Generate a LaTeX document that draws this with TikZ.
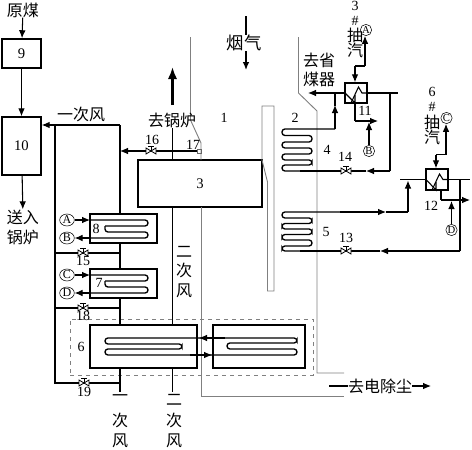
\documentclass[tikz,border=0pt]{standalone}
\usepackage{fontspec}
\usepackage{tikz}
\usetikzlibrary{shapes.geometric, arrows.meta, positioning, calc}
\newfontfamily\cjkfont{Noto Sans CJK SC}
\setmainfont{Liberation Serif}

\begin{document}
\begin{tikzpicture}[
    x=0.75pt, y=-0.75pt,
    box/.style={rectangle, draw, line width=1.1pt, inner sep=0pt, font=\fontsize{11}{12}\selectfont},
    numtag/.style={inner sep=0pt, font=\fontsize{10.5}{12}\selectfont},
    hanzi/.style={inner sep=0pt, font=\cjkfont\fontsize{12}{13}\selectfont},
    port/.style={ellipse, draw, thin, minimum width=11pt, minimum height=9pt, inner sep=0pt, font=\fontsize{9}{9}\selectfont},
    portsm/.style={port, minimum width=8.5pt, minimum height=8.5pt, font=\fontsize{8}{9}\selectfont},
    pipe/.style={line width=0.8pt},
    flow/.style={pipe, -{Latex[length=6pt,width=5pt]}},
    bigflow/.style={line width=1.7pt, -{Latex[length=9pt,width=7pt]}},
    wall/.style={draw=black!50, line width=0.7pt},
    coil/.style={line width=1pt, rounded corners=2.2pt},
    valve/.pic={
      \draw[line width=0.6pt, fill=white] (-5,-3) -- (5,3) -- (5,-3) -- (-5,3) -- cycle;
      \draw[line width=0.6pt] (0,0) -- (0,-5) (-3,-5) -- (3,-5);
    }
  ]
    \useasboundingbox (0,0) rectangle (472,450);

    % left: coal mill
    \node[hanzi] (coal) at (23,10) {原煤};
    \node[box, minimum width=29.25pt, minimum height=21.75pt] (mill9) at (21.5,53.5) {9};
    \node[box, minimum width=29.25pt, minimum height=43.5pt] (mill10) at (21.5,146) {10};
    \node[hanzi] (send) at (23,217) {送入};
    \node[hanzi] (boil) at (23,237) {锅炉};
    \draw[flow] (coal) -- (mill9);
    \draw[flow] (mill9) -- (mill10);
    \draw[flow] (mill10) -- (send);

    % air heater 3 and the boiler walls
    \node[box, minimum width=93pt, minimum height=35.25pt, line width=0.9pt] (heat3) at (200,183.5) {3};
    \draw[wall] (190.5,37) -- (190.5,120) -- (201,143) -- (201,160);
    \draw[wall] (201,207) -- (201,396) -- (344,396);
    \draw[wall] (298.5,37) -- (298.5,93) -- (317,111) -- (317,373) -- (344,373);
    \draw[wall] (262,160) -- (262,106) -- (274,106) -- (274,291) -- (267.5,291) -- (267.5,182) -- (262,160);
    \node[draw=black!60, thin, minimum size=3.2pt, inner sep=0pt] (damper17) at (199,151) {};

    % air lines
    \coordinate (air1) at (120,125);
    \coordinate (air2) at (55,125);
    \coordinate (air3) at (55,383);
    \coordinate (air4) at (120,151);
    \coordinate (air5) at (120,383);
    \coordinate (air6) at (55,253);
    \coordinate (air7) at (120,253);
    \coordinate (air8) at (55,308);
    \coordinate (air9) at (120,308);
    \coordinate (air10) at (120,392);
    \coordinate (sec1) at (172.5,160);
    \coordinate (sec2) at (172.5,128);
    \coordinate (sec3) at (172.5,105);
    \coordinate (sec4) at (172.5,67);
    \coordinate (sec5) at (172.5,207);
    \coordinate (sec6) at (172.5,325);
    \coordinate (sec7) at (172.5,368);
    \coordinate (sec8) at (172.5,392);

    % heaters 8, 7, 6
    \node[box, minimum width=50.25pt, minimum height=21.75pt] (heat8) at (123.5,228.5) {};
    \node[box, minimum width=50.25pt, minimum height=21.75pt] (heat7) at (123.5,283.5) {};
    \node[box, minimum width=80.25pt, minimum height=32.25pt] (heat6) at (143.5,346.5) {};
    \node[box, minimum width=69pt, minimum height=32.25pt] (heat6b) at (259,346.5) {};
    \node[draw=black!50, dashed, thin, minimum width=182.25pt, minimum height=42pt, inner sep=0pt] (zone) at (191.5,347) {};

    \draw[pipe] (air1) -- (air4) -- (120,214);
    \draw[pipe] (120,243) -- (120,269);
    \draw[pipe] (120,298) -- (120,325);
    \draw[pipe] (120,368) -- (air10);
    \draw[pipe] (air1) -- (air2) -- (air3) -- (air5);
    \draw[pipe] (air6) -- (air7);
    \draw[pipe] (air8) -- (air9);
    \draw[flow] (air1) -- (mill10.east |- air1);
    \draw[flow] (damper17) -- (air4);
    \draw[bigflow] (sec3) -- (sec4);
    \draw[pipe, line width=1.1pt] (sec2) -- (sec1);
    \draw[pipe, line width=1.1pt] (sec5) -- (sec6);
    \draw[pipe, line width=1.1pt] (sec7) -- (sec8);

    \pic at (151,151) {valve};
    \pic at (83,253) {valve};
    \pic at (83,308) {valve};
    \pic at (84,383) {valve};

    % heat exchanger coils
    \foreach \ya/\yb/\yc/\yd in {220/226/232/238, 275/281/287/293} {
      \draw[coil] (105,\yb) -- (148,\yb) -- (148,\ya) -- (90,\ya);
      \draw[coil] (90,\yd) -- (148,\yd) -- (148,\yc) -- (105,\yc) -- (105,\yb);
    }
    \draw[coil] (297,338) -- (105,338) -- (105,344) -- (182,344) -- (182,349) -- (105,349) -- (105,355) -- (297,355)
      -- (297,349) -- (227,349) -- (227,343) -- (297,343) -- cycle;

    \node[port] (pa) at (67,220) {A};
    \node[port] (pb) at (67,238) {B};
    \node[port] (pc) at (67,275) {C};
    \node[port] (pd) at (67,293) {D};
    \draw[flow] (pa) -- (90,220);
    \draw[flow] (90,238) -- (pb);
    \draw[flow] (pc) -- (90,275);
    \draw[flow] (90,293) -- (pd);
    \draw[flow] (225,338) -- (199,338);
    \draw[flow] (190,355) -- (212,355);

    % economizer coils
    \draw[coil] (335,129) -- (282,129) -- (282,135.5) -- (312,135.5) -- (312,142) -- (282,142) -- (282,148) -- (312,148)
      -- (312,154) -- (282,154) -- (282,160) -- (312,160) -- (312,165) -- (282,165) -- (282,171) -- (300,171);
    \draw[coil] (340,212) -- (282,212) -- (282,218) -- (312,218) -- (312,223.5) -- (282,223.5) -- (282,229) -- (312,229)
      -- (312,234.5) -- (282,234.5) -- (282,240) -- (312,240) -- (312,246) -- (282,246) -- (282,251) -- (300,251);

    % exchanger 11
    \node[box, minimum width=16.5pt, minimum height=15pt] (ex11) at (356,93) {};
    \draw[pipe] (345,93) -- (355,103) -- (355,95);
    \draw[pipe] (351,103) -- (358.5,87) -- (362,93) -- (367,93);
    \node[portsm] (pa2) at (366,30) {A};
    \node[portsm] (pb2) at (369,151) {B};
    \coordinate (t1) at (355,66);
    \coordinate (t2) at (365,66);
    \coordinate (t3) at (355,121);
    \coordinate (t4) at (378,121);
    \coordinate (t5) at (398,93);
    \coordinate (t6) at (390,93);
    \coordinate (t7) at (390,171);
    \coordinate (t8) at (335,129);
    \coordinate (t9) at (335,93);
    \coordinate (t10) at (308,93);
    \draw[flow] (t1) -- (t1 |- ex11.north);
    \draw[pipe] (t1) -- (t2);
    \draw[flow] (t2) -- (t2 |- pa2.south);
    \draw[pipe] (t3 |- ex11.south) -- (t3);
    \draw[flow] (t3) -- (t4);
    \draw[flow] (pb2) -- (369,122);
    \draw[pipe] (ex11.east |- t5) -- (t5);
    \draw[pipe] (t6) -- (t7);
    \draw[flow] (t7) -- (366,171);
    \draw[pipe] (366,171) -- (300,171);
    \draw[flow] (t8) -- (335,105);
    \draw[pipe] (335,106) -- (t9);
    \draw[flow] (ex11.west |- t9) -- (t10);

    % exchanger 12
    \node[box, minimum width=16.5pt, minimum height=15.75pt] (ex12) at (437,179.5) {};
    \draw[pipe] (426,179.5) -- (436,190) -- (436,182);
    \draw[pipe] (432,190) -- (439.5,174) -- (443,179.5) -- (448,179.5);
    \node[portsm] (pc2) at (446.5,118) {C};
    \node[portsm] (pd2) at (451.5,230) {D};
    \coordinate (s1) at (436,154.5);
    \coordinate (s2) at (446,154.5);
    \coordinate (s3) at (441,200);
    \coordinate (s4) at (470,200);
    \coordinate (s5) at (470,179.5);
    \coordinate (s6) at (400,179.5);
    \coordinate (s7) at (460,179.5);
    \coordinate (s8) at (460,251);
    \coordinate (s9) at (408,212);
    \coordinate (s10) at (340,212);
    \draw[flow] (s1) -- (s1 |- ex12.north);
    \draw[pipe] (s1) -- (s2);
    \draw[flow] (s2) -- (s2 |- pc2.south);
    \draw[pipe] (s3 |- ex12.south) -- (s3);
    \draw[flow] (s3) -- (s4);
    \draw[flow] (pd2) -- (451.5,201);
    \draw[pipe] (s6) -- (ex12.west |- s6);
    \draw[pipe] (ex12.east |- s5) -- (s5);
    \draw[pipe] (s7) -- (s8);
    \draw[flow] (s8) -- (380,251);
    \draw[pipe] (380,251) -- (300,251);
    \draw[flow] (s10) -- (386,212);
    \draw[pipe] (386,212) -- (s9);
    \draw[flow] (s9) -- (408,180.5);
    \pic at (346,171) {valve};
    \pic at (346,251) {valve};

    % flue gas
    \node[hanzi, font=\cjkfont\fontsize{13}{14}\selectfont] (smoke) at (244,43) {烟气};
    \coordinate (sm1) at (246,16);
    \coordinate (sm2) at (246,70);
    \draw[pipe, line width=1pt] (sm1) -- (smoke.north -| sm1);
    \draw[flow, line width=1pt] (smoke.south -| sm2) -- (sm2);

    % exit to dust removal
    \node[hanzi] (dust) at (380,386) {去电除尘};
    \coordinate (dust0) at (329,386);
    \coordinate (dust1) at (431,386);
    \draw[pipe] (dust0) -- (dust);
    \draw[flow] (dust) -- (dust1);

    % numbers
    \node[numtag] (n1) at (224,118) {1};
    \node[numtag] (n2) at (295,118) {2};
    \node[numtag] (n4) at (327,150) {4};
    \node[numtag] (n5) at (326,232) {5};
    \node[numtag] (n6) at (81,347) {6};
    \node[numtag] (n7) at (99,283) {7};
    \node[numtag] (n8) at (96,229) {8};
    \node[numtag] (n11) at (365,111) {11};
    \node[numtag] (n12) at (431,206) {12};
    \node[numtag] (n13) at (346,238) {13};
    \node[numtag] (n14) at (345,157) {14};
    \node[numtag] (n15) at (83,261) {15};
    \node[numtag] (n16) at (152,140) {16};
    \node[numtag] (n17) at (193,145) {17};
    \node[numtag] (n18) at (83,316) {18};
    \node[numtag] (n19) at (84,392) {19};

    % texts
    \node[hanzi] (tpri) at (81,114) {一次风};
    \node[hanzi] (tback) at (172,120) {去锅炉};
    \node[hanzi] (teco1) at (319,60) {去省};
    \node[hanzi] (teco2) at (319,79) {煤器};
    \node[numtag] (e3) at (355,6) {3};
    \node[numtag] (e3a) at (355,21) {\#};
    \node[hanzi] (e3b) at (355,35) {抽};
    \node[hanzi] (e3c) at (355,50) {汽};
    \node[numtag] (e6) at (432,92) {6};
    \node[numtag] (e6a) at (432,107) {\#};
    \node[hanzi] (e6b) at (432,122) {抽};
    \node[hanzi] (e6c) at (432,137) {汽};
    \foreach \ch/\yy [count=\i] in {二/252, 次/270, 风/291} {
      \node[hanzi] (ts\i) at (184,\yy) {\ch};
    }
    \foreach \ch/\yy [count=\i] in {一/398, 次/420, 风/441} {
      \node[hanzi] (ba\i) at (120,\yy) {\ch};
    }
    \foreach \ch/\yy [count=\i] in {二/400, 次/420, 风/441} {
      \node[hanzi] (bb\i) at (174,\yy) {\ch};
    }
  \end{tikzpicture}
\end{document}
